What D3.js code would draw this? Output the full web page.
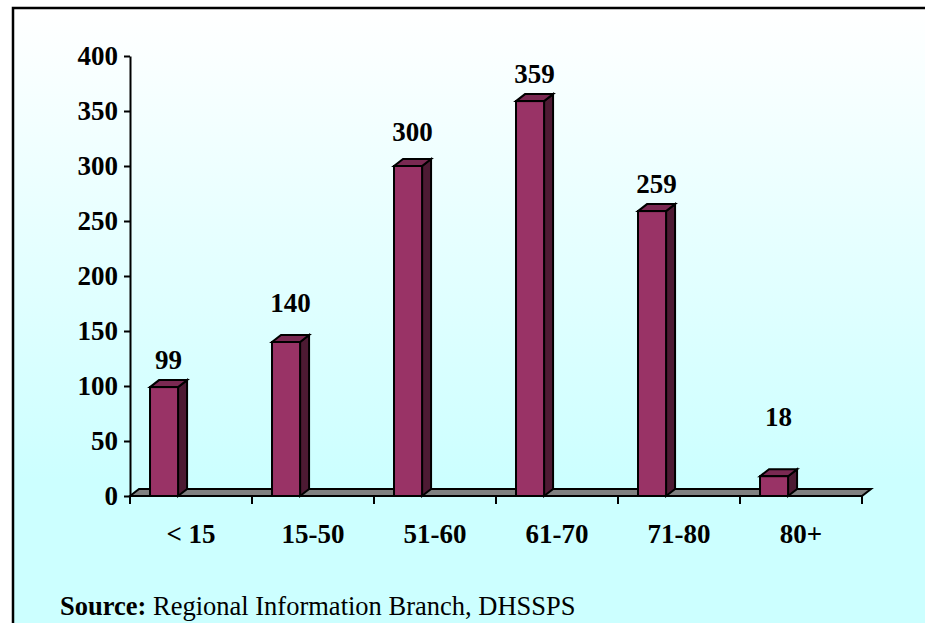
<!DOCTYPE html>
<html>
<head>
<meta charset="utf-8">
<script src="https://cdn.jsdelivr.net/npm/d3@7"></script>
<style>
  html, body { margin: 0; padding: 0; background: #ccffff; overflow: hidden; }
  svg { display: block; overflow: hidden; }
  text { font-family: "Liberation Serif", "Times New Roman", serif; }
</style>
</head>
<body>
<svg id="chart" width="925" height="623" viewBox="0 0 925 623"></svg>
<script>
// Age bands and counts
const ageBands = ["< 15", "15-50", "51-60", "61-70", "71-80", "80+"];
const counts = [99, 140, 300, 359, 259, 18];
const yTicks = [0, 50, 100, 150, 200, 250, 300, 350, 400];
const sourceLabel = "Source:";
const sourceText = " Regional Information Branch, DHSSPS";

// Layout
const W = 925, H = 623;
const plotLeft = 130, plotRight = 862, plotTop = 56, plotBottom = 496;
const depthX = 9, depthY = -7;           // oblique depth of bars and floor
const labelRise = [18, 30, 25, 18, 18, 50]; // label baseline distance above bar front top
const fontSize = 27;

const svg = d3.select("#chart");
const defs = svg.append("defs");
const grad = defs.append("linearGradient")
  .attr("id", "bg")
  .attr("gradientUnits", "userSpaceOnUse")
  .attr("x1", 0).attr("y1", 10).attr("x2", 0).attr("y2", 480);
grad.append("stop").attr("offset", 0).attr("stop-color", "#ffffff");
grad.append("stop").attr("offset", 1).attr("stop-color", "#ccffff");

// Page background, then the panel, framed on its left and top edges
svg.append("rect").attr("width", W).attr("height", H).attr("fill", "#ffffff");
svg.append("rect")
  .attr("x", 13).attr("y", 8)
  .attr("width", W + 20).attr("height", H + 20)
  .attr("fill", "url(#bg)");
svg.append("path")
  .attr("d", `M13,${H + 20} V8 H${W + 20}`)
  .attr("fill", "none")
  .attr("stroke", "#000").attr("stroke-width", 2.5);

const x = d3.scaleBand().domain(ageBands).range([plotLeft, plotRight]).padding(0);
const y = d3.scaleLinear().domain([0, 400]).range([plotBottom, plotTop]);
const bw = x.bandwidth();
const barOffset = bw * 0.164, barWidth = bw * 0.23;

// Floor
const floorPts = [
  [plotLeft, y(0)], [plotLeft + depthX, y(0) + depthY],
  [plotRight + depthX, y(0) + depthY], [plotRight, y(0)]
];
svg.append("polygon")
  .attr("points", floorPts.map(p => p.join(",")).join(" "))
  .attr("fill", "#808080").attr("stroke", "#000").attr("stroke-width", 2)
  .attr("stroke-linejoin", "miter");

// Bars
const data = ageBands.map((b, i) => ({ band: b, value: counts[i], rise: labelRise[i] }));
const bars = svg.append("g").selectAll("g").data(data).join("g");

bars.append("polygon") // side face
  .attr("points", d => {
    const x1 = x(d.band) + barOffset + barWidth, yt = y(d.value), yb = y(0);
    return [[x1, yb], [x1, yt], [x1 + depthX, yt + depthY], [x1 + depthX, yb + depthY]]
      .map(p => p.join(",")).join(" ");
  })
  .attr("fill", "#4d1a33").attr("stroke", "#000").attr("stroke-width", 2)
  .attr("stroke-linejoin", "miter");

bars.append("polygon") // top face
  .attr("points", d => {
    const x0 = x(d.band) + barOffset, x1 = x0 + barWidth, yt = y(d.value);
    return [[x0, yt], [x0 + depthX, yt + depthY], [x1 + depthX, yt + depthY], [x1, yt]]
      .map(p => p.join(",")).join(" ");
  })
  .attr("fill", "#7a2952").attr("stroke", "#000").attr("stroke-width", 2)
  .attr("stroke-linejoin", "miter");

bars.append("rect") // front face
  .attr("x", d => x(d.band) + barOffset)
  .attr("y", d => y(d.value))
  .attr("width", barWidth)
  .attr("height", d => y(0) - y(d.value))
  .attr("fill", "#993366").attr("stroke", "#000").attr("stroke-width", 2);

bars.append("text")
  .attr("x", d => x(d.band) + barOffset + barWidth / 2 + depthX / 2)
  .attr("y", d => y(d.value) - d.rise)
  .attr("text-anchor", "middle")
  .attr("font-size", fontSize).attr("font-weight", "bold")
  .text(d => d.value);

// Value axis
const yAxis = svg.append("g")
  .attr("transform", `translate(${plotLeft},0)`)
  .call(d3.axisLeft(y).tickValues(yTicks).tickSize(6).tickSizeOuter(0).tickPadding(6));
yAxis.select(".domain").attr("stroke", "#000").attr("stroke-width", 2);
yAxis.selectAll(".tick line").attr("stroke", "#000").attr("stroke-width", 2);
yAxis.selectAll(".tick text")
  .attr("font-family", "Liberation Serif, Times New Roman, serif")
  .attr("font-size", fontSize).attr("font-weight", "bold").attr("fill", "#000");

// Category axis: ticks at band edges, labels at band centres
const edges = ageBands.map(b => x(b)).concat([plotRight]);
svg.append("g").selectAll("line").data(edges).join("line")
  .attr("x1", d => d).attr("x2", d => d)
  .attr("y1", y(0)).attr("y2", y(0) + 8)
  .attr("stroke", "#000").attr("stroke-width", 2);

const xAxis = svg.append("g")
  .attr("transform", `translate(0,${y(0)})`)
  .call(d3.axisBottom(x).tickSize(0).tickPadding(0));
xAxis.select(".domain").remove();
xAxis.selectAll(".tick text")
  .attr("y", 47).attr("dy", 0)
  .attr("font-family", "Liberation Serif, Times New Roman, serif")
  .attr("font-size", fontSize).attr("font-weight", "bold").attr("fill", "#000");

// Source note
const src = svg.append("text").attr("x", 60).attr("y", 615).attr("font-size", 26.5);
src.append("tspan").attr("font-weight", "bold").text(sourceLabel);
src.append("tspan").text(sourceText);
</script>
</body>
</html>
